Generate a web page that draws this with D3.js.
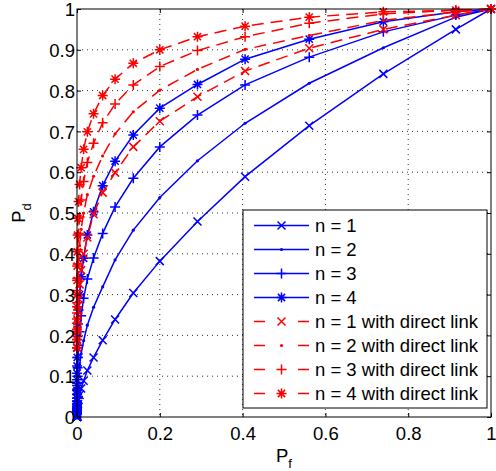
<!DOCTYPE html>
<html><head><meta charset="utf-8">
<script src="https://cdn.jsdelivr.net/npm/d3@7"></script>
<style>
html,body{margin:0;padding:0;background:#fff;}
svg text{font-family:"Liberation Sans",Arial,Helvetica,sans-serif;fill:#000;}
</style></head>
<body>
<svg id="chart" width="496" height="471"></svg>
<script>
// ---- data ----
const pf = [1, 0.915, 0.740, 0.561, 0.406, 0.291, 0.200, 0.136, 0.092, 0.062, 0.040, 0.025, 0.016, 0.010,
  0.0062, 0.0038, 0.0023, 0.0014, 0.0008, 0.0005, 0.0003, 0.00017, 0.0001, 0.00006, 0.00003, 0.00002,
  0.00001, 0.000005, 0.000003, 0.000001, 0.0000005, 0.0000003, 0.0000001, 0];
const pdN1 = [1, 0.950, 0.841, 0.714, 0.589, 0.479, 0.382, 0.304, 0.239, 0.188, 0.146, 0.114, 0.089, 0.070,
  0.054, 0.042, 0.032, 0.025, 0.019, 0.014, 0.010, 0.008, 0.006, 0.004, 0.003, 0.002, 0.0015, 0.001,
  0.0008, 0.0006, 0.0004, 0.0003, 0.0002, 0.0001];
const pdN2 = [1, 0.980, 0.905, 0.818, 0.720, 0.628, 0.538, 0.458, 0.385, 0.319, 0.269, 0.225, 0.187, 0.155,
  0.128, 0.105, 0.086, 0.070, 0.057, 0.046, 0.037, 0.030, 0.024, 0.019, 0.015, 0.012, 0.010, 0.008,
  0.006, 0.005, 0.004, 0.003, 0.002, 0.002];
const pdN3 = [1, 0.985, 0.944, 0.882, 0.814, 0.740, 0.662, 0.585, 0.515, 0.450, 0.390, 0.338, 0.291, 0.248,
  0.209, 0.175, 0.146, 0.121, 0.100, 0.083, 0.068, 0.056, 0.046, 0.038, 0.031, 0.025, 0.021, 0.017,
  0.014, 0.012, 0.010, 0.008, 0.007, 0.006];
const pdN4 = [1, 0.993, 0.969, 0.926, 0.877, 0.815, 0.757, 0.691, 0.627, 0.567, 0.503, 0.446, 0.389, 0.344,
  0.300, 0.262, 0.228, 0.197, 0.170, 0.146, 0.125, 0.107, 0.091, 0.077, 0.065, 0.055, 0.046, 0.039,
  0.032, 0.027, 0.022, 0.018, 0.015, 0.012];
const pdN1D = [1, 0.985, 0.950, 0.904, 0.848, 0.785, 0.725, 0.662, 0.599, 0.550, 0.497, 0.440, 0.400, 0.360,
  0.325, 0.290, 0.260, 0.235, 0.210, 0.190, 0.170];
const pdN2D = [1, 0.993, 0.972, 0.935, 0.901, 0.852, 0.801, 0.748, 0.694, 0.640, 0.590, 0.545, 0.500, 0.460,
  0.420, 0.385, 0.350, 0.320, 0.290, 0.265, 0.240, 0.220, 0.200, 0.182, 0.165];
const pdN3D = [1, 0.997, 0.988, 0.965, 0.932, 0.898, 0.859, 0.814, 0.767, 0.721, 0.671, 0.624, 0.577, 0.532,
  0.490, 0.450, 0.410, 0.375, 0.340, 0.310, 0.280, 0.255, 0.230, 0.210, 0.190, 0.170];
const pdN4D = [1, 0.997, 0.993, 0.980, 0.958, 0.932, 0.900, 0.867, 0.828, 0.788, 0.743, 0.699, 0.656, 0.611,
  0.570, 0.528, 0.487, 0.446, 0.405, 0.370, 0.335, 0.300, 0.270, 0.240, 0.215, 0.190, 0.170];

const seriesNames = ["n = 1", "n = 2", "n = 3", "n = 4",
  "n = 1 with direct link", "n = 2 with direct link", "n = 3 with direct link", "n = 4 with direct link"];
const seriesValues = [pdN1, pdN2, pdN3, pdN4, pdN1D, pdN2D, pdN3D, pdN4D];
const seriesMarkers = ["x", "dot", "plus", "star", "x", "dot", "plus", "star"];
const seriesColors = ["#0000ff", "#0000ff", "#0000ff", "#0000ff", "#ff0000", "#ff0000", "#ff0000", "#ff0000"];
const seriesDashed = [false, false, false, false, true, true, true, true];

const xTicks = [0, 0.2, 0.4, 0.6, 0.8, 1];
const xTickLabels = ["0", "0.2", "0.4", "0.6", "0.8", "1"];
const yTicks = [0, 0.1, 0.2, 0.3, 0.4, 0.5, 0.6, 0.7, 0.8, 0.9, 1];
const yTickLabels = ["0", "0.1", "0.2", "0.3", "0.4", "0.5", "0.6", "0.7", "0.8", "0.9", "1"];

// ---- layout ----
const L = 77, R = 491, T = 9, B = 417;
const svg = d3.select("#chart");
const x = d3.scaleLinear().domain([0, 1]).range([L, R]);
const y = d3.scaleLinear().domain([0, 1]).range([B, T]);

// grid
const grid = svg.append("g");
xTicks.slice(1, -1).forEach(t => grid.append("line")
  .attr("x1", x(t)).attr("x2", x(t)).attr("y1", T).attr("y2", B)
  .attr("stroke", "#333").attr("stroke-width", 1).attr("stroke-dasharray", "1,4"));
yTicks.slice(1, -1).forEach(t => grid.append("line")
  .attr("x1", L).attr("x2", R).attr("y1", y(t)).attr("y2", y(t))
  .attr("stroke", "#333").attr("stroke-width", 1).attr("stroke-dasharray", "1,4"));

// marker drawing
function marker(g, type, cx, cy, color) {
  const sw = 1.5;
  if (type === "x") {
    const s = 4;
    g.append("path").attr("d", `M${cx-s},${cy-s}L${cx+s},${cy+s}M${cx-s},${cy+s}L${cx+s},${cy-s}`)
      .attr("stroke", color).attr("stroke-width", sw).attr("fill", "none");
  } else if (type === "plus") {
    const s = 5;
    g.append("path").attr("d", `M${cx-s},${cy}L${cx+s},${cy}M${cx},${cy-s}L${cx},${cy+s}`)
      .attr("stroke", color).attr("stroke-width", sw).attr("fill", "none");
  } else if (type === "star") {
    const s = 5, d = 3.6;
    g.append("path").attr("d", `M${cx-s},${cy}L${cx+s},${cy}M${cx},${cy-s}L${cx},${cy+s}M${cx-d},${cy-d}L${cx+d},${cy+d}M${cx-d},${cy+d}L${cx+d},${cy-d}`)
      .attr("stroke", color).attr("stroke-width", sw).attr("fill", "none");
  } else {
    g.append("circle").attr("cx", cx).attr("cy", cy).attr("r", 1.6).attr("fill", color);
  }
}

const line = d3.line().x(d => x(d[0])).y(d => y(d[1]));
const plot = svg.append("g");
seriesValues.forEach((vals, i) => {
  const pts = vals.map((v, k) => [pf[k], v]);
  plot.append("path").attr("d", line(pts)).attr("fill", "none")
    .attr("stroke", seriesColors[i]).attr("stroke-width", 1.5)
    .attr("stroke-dasharray", seriesDashed[i] ? "12,7" : null);
  const mg = plot.append("g");
  pts.forEach(p => marker(mg, seriesMarkers[i], x(p[0]), y(p[1]), seriesColors[i]));
});

// axes (ticks inward, box)
const fs = 18.5;
const axB = svg.append("g").attr("transform", `translate(0,${B})`)
  .call(d3.axisBottom(x).tickValues(xTicks).tickSize(-4).tickPadding(8).tickFormat((d, i) => xTickLabels[i]));
const axT = svg.append("g").attr("transform", `translate(0,${T})`)
  .call(d3.axisTop(x).tickValues(xTicks).tickSize(-4).tickFormat(""));
const axL = svg.append("g").attr("transform", `translate(${L},0)`)
  .call(d3.axisLeft(y).tickValues(yTicks).tickSize(-4).tickPadding(6).tickFormat((d, i) => yTickLabels[i]));
const axR = svg.append("g").attr("transform", `translate(${R},0)`)
  .call(d3.axisRight(y).tickValues(yTicks).tickSize(-4).tickFormat(""));
[axB, axT, axL, axR].forEach(a => {
  a.select(".domain").remove();
  a.selectAll(".tick line").attr("stroke", "#000").attr("stroke-width", 1);
  a.selectAll("text").attr("font-size", fs).attr("font-family", null).attr("fill", "#000");
});
axB.selectAll("text").attr("dy", null).attr("y", null).attr("transform", "translate(0,23)");
axL.selectAll("text").attr("x", -2).attr("dy", "0.36em");

// legend
const lg = svg.append("g");
const lgL = 243, lgT = 210, lgR = 487, lgB = 408;
lg.append("rect").attr("x", lgL).attr("y", lgT).attr("width", lgR - lgL).attr("height", lgB - lgT)
  .attr("fill", "#fff").attr("stroke", "#000").attr("stroke-width", 1);
seriesNames.forEach((name, i) => {
  const cy = 225.5 + i * 24;
  lg.append("line").attr("x1", 254).attr("x2", 309).attr("y1", cy).attr("y2", cy)
    .attr("stroke", seriesColors[i]).attr("stroke-width", 1.5)
    .attr("stroke-dasharray", seriesDashed[i] ? "11,33" : null);
  marker(lg, seriesMarkers[i], 281.5, cy, seriesColors[i]);
  lg.append("text").attr("x", 315).attr("y", cy).attr("dy", "0.36em")
    .attr("font-size", 18.5).text(name);
});

// box
svg.append("rect").attr("x", L).attr("y", T).attr("width", R - L).attr("height", B - T)
  .attr("fill", "none").attr("stroke", "#000").attr("stroke-width", 1);

// axis labels
const xl = svg.append("text").attr("x", 284).attr("y", 462).attr("text-anchor", "middle").attr("font-size", 18.5);
xl.append("tspan").text("P");
xl.append("tspan").attr("font-size", 13).attr("dy", 6).text("f");
const yl = svg.append("text").attr("transform", "translate(25,213) rotate(-90)").attr("text-anchor", "middle").attr("font-size", 18.5);
yl.append("tspan").text("P");
yl.append("tspan").attr("font-size", 13).attr("dy", 6).text("d");
</script>
</body></html>
